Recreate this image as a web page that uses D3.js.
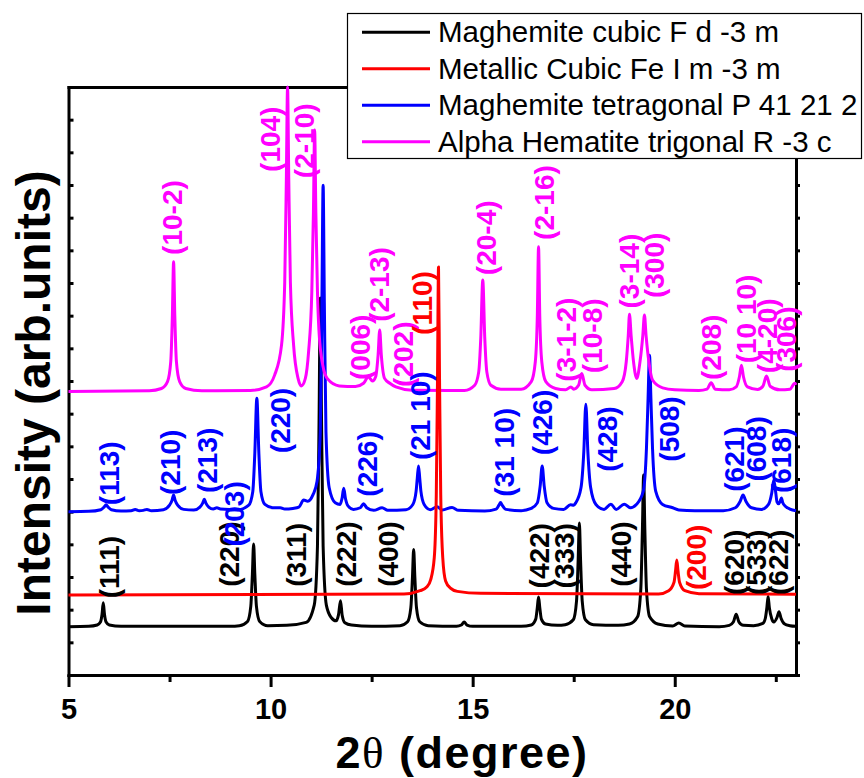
<!DOCTYPE html>
<html>
<head>
<meta charset="utf-8">
<script src="https://cdn.jsdelivr.net/npm/d3@7"></script>
<style>
  body { margin: 0; background: #fff; }
  .canvas svg { display: block; }
</style>
</head>
<body>
<div class="canvas"></div>
<script>
// ---- data (2theta in degrees, intensity in arb. units) ----
const seriesNames = [
    'Maghemite cubic F d -3 m',
    'Metallic Cubic Fe I m -3 m',
    'Maghemite tetragonal P 41 21 2',
    'Alpha Hematite trigonal R -3 c'
];

const cubicPts = [
    [5.0,148],[5.5,149],[5.71,153],[5.79,162],[5.83,186],[5.86,221],[5.89,186],[5.93,162],[6.01,153],[6.3,149],
    [9.0,149],[9.23,151],[9.43,164],[9.51,210],[9.55,309],[9.58,401],[9.61,309],[9.65,210],[9.73,164],[9.93,151],
    [10.4,152],[10.88,161],[11.08,214],[11.16,395],[11.20,786],[11.23,1154],[11.26,786],[11.30,395],[11.38,214],
    [11.50,176],[11.62,166],[11.68,184],[11.73,227],[11.77,184],[11.84,160],[12.0,153],[12.5,149],
    [13.2,151],[13.39,163],[13.47,206],[13.51,298],[13.54,384],[13.57,298],[13.61,206],[13.69,163],[13.9,151],
    [14.6,149],[14.72,153],[14.79,162],[14.86,153],[15.0,149],
    [16.2,149],[16.45,153],[16.56,171],[16.60,207],[16.63,239],[16.66,207],[16.70,171],[16.8,156],[17.1,152],
    [17.29,154],[17.49,169],[17.57,227],[17.61,351],[17.64,465],[17.67,351],[17.71,227],[17.79,169],[17.99,154],
    [18.6,152],[18.88,156],[19.08,178],[19.16,263],[19.20,446],[19.23,612],[19.26,446],[19.30,263],[19.38,178],[19.58,156],
    [19.95,150],[20.10,159],[20.25,150],[21.1,148],
    [21.35,152],[21.45,162],[21.52,186],[21.59,162],[21.7,152],[21.95,151],
    [22.18,158],[22.24,173],[22.28,207],[22.31,240],[22.34,207],[22.40,172],[22.45,162],[22.53,176],[22.58,194],
    [22.63,174],[22.72,156],[22.85,151],[23.0,149]
];

const metalPts = [
    [5.0,245],[13.3,248],[13.7,258],[13.87,270],[13.96,291],[14.05,359],[14.10,552],[14.13,908],[14.155,1249],
    [14.18,908],[14.21,552],[14.26,359],[14.33,288],[14.45,266],[14.62,256],[15.2,250],
    [19.6,248],[19.85,258],[19.98,283],[20.02,319],[20.05,352],[20.08,319],[20.12,283],[20.25,258],[20.6,249],[23.0,247]
];

const tetraPts = [
    [5.0,500],[5.5,501],[5.8,506],[5.88,514],[5.93,521],[5.98,514],[6.06,506],[6.3,502],
    [6.55,503],[6.65,507],[6.75,503],[6.85,504],[6.94,507],[7.05,503],
    [7.35,506],[7.5,520],[7.56,534],[7.60,551],[7.64,534],[7.70,520],[7.85,507],[8.1,505],
    [8.25,514],[8.32,526],[8.36,538],[8.40,526],[8.47,514],[8.58,508],[8.67,512],[8.76,508],
    [9.2,506],[9.46,520],[9.56,562],[9.61,679],[9.66,847],[9.71,679],[9.76,562],[9.86,522],[10.05,512],
    [10.24,512],[10.35,508],[10.55,510],[10.7,514],[10.82,536],[10.92,532],[11.05,552],[11.15,593],[11.23,745],
    [11.27,1141],[11.30,1499],[11.33,1141],[11.37,745],[11.45,573],[11.6,527],
    [11.72,522],[11.77,542],[11.81,572],[11.85,542],[11.92,517],[12.05,507],
    [12.22,512],[12.30,524],[12.38,512],[12.55,504],[12.76,512],[12.9,504],
    [13.35,506],[13.52,522],[13.60,562],[13.63,603],[13.66,640],[13.69,603],[13.72,562],[13.80,522],[13.95,506],
    [14.12,515],[14.25,505],[14.49,513],[14.65,504],[15.3,502],
    [15.58,508],[15.65,520],[15.69,528],[15.73,520],[15.82,507],[16.2,503],
    [16.45,510],[16.60,527],[16.67,578],[16.72,640],[16.77,578],[16.84,527],[17.0,510],
    [17.25,507],[17.42,521],[17.5,520],[17.55,527],[17.68,573],[17.75,684],[17.80,829],[17.85,684],[17.92,573],
    [18.05,522],[18.25,507],[18.42,523],[18.55,507],[18.75,523],[18.9,512],
    [19.05,522],[19.22,562],[19.30,694],[19.34,847],[19.375,979],[19.41,847],[19.45,694],[19.53,562],[19.7,522],
    [19.95,512],[20.1,505],[20.5,503],[21.2,503],
    [21.5,512],[21.62,532],[21.69,551],[21.76,532],[21.9,512],[22.15,507],
    [22.32,522],[22.40,557],[22.45,597],[22.50,557],[22.53,530],[22.57,524],[22.61,532],[22.64,542],[22.67,528],
    [22.75,515],[22.85,508],[23.0,503]
];

const hemPts = [
    [5.0,868],[7.0,870],[7.3,877],[7.45,898],[7.53,959],[7.57,1101],[7.60,1265],[7.63,1101],[7.67,959],[7.75,898],
    [7.9,877],[8.3,870],[9.5,871],
    [9.9,882],[10.1,918],[10.27,1009],[10.35,1202],[10.39,1517],[10.42,1800],[10.45,1517],[10.49,1202],[10.57,1009],
    [10.68,908],[10.76,885],[10.86,908],[10.94,989],[11.02,1172],[11.06,1416],[11.09,1668],[11.12,1416],[11.16,1172],
    [11.24,989],[11.4,908],[11.7,885],[12.1,883],
    [12.3,893],[12.42,913],[12.52,900],[12.6,913],[12.66,979],[12.70,1056],[12.74,979],[12.82,908],[12.95,893],
    [13.1,882],[13.5,872],
    [14.8,871],[15.05,887],[15.15,928],[15.2,1030],[15.25,1209],[15.3,1030],[15.35,928],[15.45,887],[15.7,875],
    [16.2,875],[16.45,898],[16.55,959],[16.6,1101],[16.63,1311],[16.66,1101],[16.71,959],[16.81,898],[17.05,877],
    [17.3,873],[17.43,882],[17.5,875],[17.62,887],[17.70,923],[17.78,887],[17.95,873],
    [18.5,877],[18.7,898],[18.8,959],[18.85,1040],[18.88,1104],[18.92,1040],[18.98,959],[19.06,908],[19.14,959],
    [19.21,1040],[19.25,1102],[19.29,1040],[19.36,959],[19.45,903],[19.7,879],[20.0,873],[20.6,871],
    [20.8,875],[20.9,895],[21.0,875],[21.35,873],
    [21.52,882],[21.6,913],[21.65,948],[21.7,913],[21.8,882],[22.05,874],
    [22.18,884],[22.27,915],[22.36,884],[22.6,873],[22.85,875],[22.97,893],[23.0,888]
];

// peak labels: [text, 2theta, intensity where the label starts]
const cubicLabels = [
    ['(111)',6.03,235],['(220)',9.00,270],['(311)',10.66,270],['(222)',11.90,270],['(400)',12.94,270],
    ['(422)',16.68,265],['(333)',17.30,265],['(440)',18.71,270],['(620)',21.51,245],['(533)',22.06,245],['(622)',22.60,245]
];
const metalLabels = [['(110)',13.78,1041],['(200)',20.57,260]];
const tetraLabels = [
    ['(113)',6.03,520],['(210)',7.56,551],['(213)',8.46,557],['(203)',9.13,393],['(220)',10.28,679],
    ['(226)',12.42,546],['(21 10)',13.73,658],['(31 10)',15.81,546],['(426)',16.76,673],['(428)',18.37,622],
    ['(508)',19.90,653],['(621)',21.51,561],['(608)',22.06,592],['(618)',22.68,557]
];
const hemLabels = [
    ['(10-2)',7.60,1286],['(104)',10.02,1540],['(2-10)',10.86,1521],['(006)',12.25,903],['(2-13)',12.73,1081],
    ['(202)',13.31,882],['(20-4)',15.37,1224],['(2-16)',16.81,1332],['(3-1-2)',17.35,898],['(10-8)',18.00,924],
    ['(3-14)',18.91,1122],['(300)',19.53,1154],['(208)',20.94,903],['(10 10)',21.81,954],['(4-20)',22.33,924],
    ['(306)',22.80,928]
];

const xTicks = [5, 10, 15, 20];
const xMinorTicks = [7.5, 12.5, 17.5, 22.5];
const yTicks = d3.range(0, 1801, 100);

// ---- layout ----
const margin = { top: 87, right: 68, bottom: 103, left: 68.5 };
const svgDims = { width: 864, height: 778 };
const graphWidth = svgDims.width - margin.left - margin.right;
const graphHeight = svgDims.height - margin.top - margin.bottom;
const font = "'Liberation Sans', Arial, sans-serif";

const svg = d3.select('.canvas')
    .append('svg')
    .attr('width', svgDims.width)
    .attr('height', svgDims.height)
    .style('font-family', font);

const graph = svg.append('g')
    .attr('transform', `translate(${margin.left}, ${margin.top})`);

const x = d3.scaleLinear().domain([5, 23]).range([0, graphWidth]);
const y = d3.scaleLinear().domain([0, 1800]).range([graphHeight, 0]);

// frame + axes
const styleAxis = g => {
    g.select('.domain').attr('stroke-width', 3).attr('stroke-linecap', 'square');
    g.selectAll('.tick line').attr('stroke-width', 3);
};

graph.append('g')
    .attr('transform', `translate(0, ${graphHeight})`)
    .call(d3.axisBottom(x).tickValues(xMinorTicks).tickSize(7).tickSizeOuter(0).tickFormat(''))
    .call(g => g.select('.domain').remove())
    .call(styleAxis);

const xAxisGroup = graph.append('g')
    .attr('transform', `translate(0, ${graphHeight})`)
    .call(d3.axisBottom(x).tickValues(xTicks).tickSize(12).tickSizeOuter(0).tickPadding(11))
    .call(styleAxis);
xAxisGroup.selectAll('text')
    .attr('font-size', 29)
    .attr('font-weight', 'bold')
    .attr('font-family', font)
    .attr('fill', '#000');

graph.append('g')
    .call(d3.axisLeft(y).tickValues(yTicks).tickSize(-5).tickSizeOuter(0).tickFormat(''))
    .call(styleAxis);
graph.append('g')
    .attr('transform', `translate(${graphWidth}, 0)`)
    .call(d3.axisRight(y).tickValues(yTicks).tickSize(4).tickSizeOuter(0).tickFormat(''))
    .call(styleAxis);
graph.append('g')
    .call(d3.axisTop(x).tickValues([]).tickSizeOuter(0))
    .call(styleAxis);

// curves
const line = d3.line()
    .x(d => x(d[0]))
    .y(d => y(d[1]))
    .curve(d3.curveMonotoneX);

const series = [
    { pts: cubicPts, color: '#000000' },
    { pts: tetraPts, color: '#0000ff' },
    { pts: hemPts, color: '#ff00ff' },
    { pts: metalPts, color: '#ff0000' }
];

graph.selectAll('path.xrd')
    .data(series)
    .enter()
    .append('path')
        .attr('class', 'xrd')
        .attr('fill', 'none')
        .attr('stroke', d => d.color)
        .attr('stroke-width', 3)
        .attr('stroke-linejoin', 'round')
        .attr('d', d => line(d.pts));

// peak labels
const labelSets = [
    { labels: hemLabels, color: '#ff00ff' },
    { labels: metalLabels, color: '#ff0000' },
    { labels: cubicLabels, color: '#000000' },
    { labels: tetraLabels, color: '#0000ff' }
];

labelSets.forEach(set => {
    graph.append('g')
        .selectAll('text')
        .data(set.labels)
        .enter()
        .append('text')
            .attr('transform', d => `translate(${x(d[1])}, ${y(d[2])}) rotate(-90)`)
            .attr('dy', '0.3em')
            .attr('font-size', 28)
            .attr('font-weight', 'bold')
            .attr('fill', set.color)
            .text(d => d[0]);
});

// axis titles
svg.append('text')
    .attr('x', 462)
    .attr('y', 768)
    .attr('text-anchor', 'middle')
    .attr('font-size', 45)
    .attr('font-weight', 'bold')
    .attr('letter-spacing', 1.5)
    .call(t => {
        t.append('tspan').text('2');
        t.append('tspan').attr('font-family', "'Liberation Serif', serif").attr('font-weight', 'normal').text('θ');
        t.append('tspan').text(' (degree)');
    });

svg.append('text')
    .attr('transform', 'translate(50, 393) rotate(-90)')
    .attr('text-anchor', 'middle')
    .attr('font-size', 48)
    .attr('font-weight', 'bold')
    .text('Intensity (arb.units)');

// legend
const legendColors = ['#000000', '#ff0000', '#0000ff', '#ff00ff'];
const legend = svg.append('g');
legend.append('rect')
    .attr('x', 347.5)
    .attr('y', 13.5)
    .attr('width', 514)
    .attr('height', 145)
    .attr('fill', '#fff')
    .attr('stroke', '#000')
    .attr('stroke-width', 1.2);

const legendRows = legend.selectAll('g.row')
    .data(seriesNames)
    .enter()
    .append('g')
        .attr('class', 'row')
        .attr('transform', (d, i) => `translate(0, ${32.3 + i * 36.5})`);
legendRows.append('line')
    .attr('x1', 362).attr('x2', 430)
    .attr('stroke', (d, i) => legendColors[i])
    .attr('stroke-width', 3);
legendRows.append('text')
    .attr('x', 438)
    .attr('y', 10)
    .attr('font-size', 29.5)
    .text(d => d);
</script>
</body>
</html>
